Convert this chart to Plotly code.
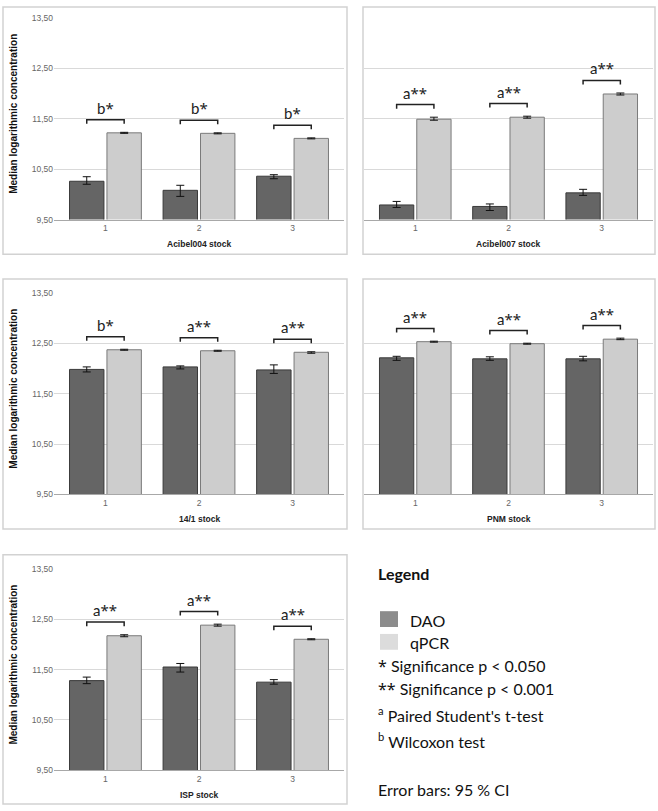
import plotly.graph_objects as go

# ---------------- DATA ----------------
stocks = ["Acibel004 stock", "Acibel007 stock", "14/1 stock", "PNM stock", "ISP stock"]
replicates = ["1", "2", "3"]

dao_median = [[10.26, 10.08, 10.36], [9.79, 9.76, 10.03], [11.98, 12.03, 11.97],
              [12.21, 12.19, 12.19], [11.28, 11.55, 11.25]]
dao_ci_low = [[10.20, 9.96, 10.31], [9.74, 9.68, 9.98], [11.93, 11.99, 11.90],
              [12.16, 12.16, 12.15], [11.22, 11.45, 11.21]]
dao_ci_high = [[10.35, 10.18, 10.39], [9.86, 9.81, 10.10], [12.03, 12.05, 12.07],
               [12.24, 12.23, 12.24], [11.35, 11.62, 11.30]]

qpcr_median = [[11.22, 11.21, 11.11], [11.49, 11.53, 11.99], [12.37, 12.35, 12.32],
               [12.53, 12.49, 12.58], [12.17, 12.38, 12.10]]
qpcr_ci_low = [[11.21, 11.20, 11.10], [11.47, 11.51, 11.97], [12.36, 12.34, 12.30],
               [12.52, 12.48, 12.57], [12.15, 12.36, 12.09]]
qpcr_ci_high = [[11.23, 11.22, 11.12], [11.53, 11.55, 12.01], [12.38, 12.36, 12.33],
                [12.54, 12.50, 12.60], [12.19, 12.40, 12.11]]

significance = [["b*", "b*", "b*"], ["a**", "a**", "a**"], ["b*", "a**", "a**"],
                ["a**", "a**", "a**"], ["a**", "a**", "a**"]]

y_tick_values = [9.5, 10.5, 11.5, 12.5, 13.5]
y_tick_labels = ["9,50", "10,50", "11,50", "12,50", "13,50"]
y_title = "Median logarithmic concentration"

legend_title = "Legend"
legend_series = ["DAO", "qPCR"]
legend_notes = ["* Significance p < 0.050", "** Significance p < 0.001",
                "<sup>a</sup> Paired Student's t-test", "<sup>b</sup> Wilcoxon test"]
legend_footer = "Error bars: 95 % CI"

# ---------------- STYLE / LAYOUT ----------------
W, H = 658, 811
DAO_FILL, DAO_LINE = "#656565", "#3a3a3a"
QPCR_FILL, QPCR_LINE = "#cdcdcd", "#7a7a7a"
LEG_DAO, LEG_QPCR = "#8c8c8c", "#dcdcdc"
BORDER = "#d2d2d2"
GRID = "#d9d9d9"
TXT_FONT = "Lato"
AX_FONT = "Liberation Sans"
STAR_FONT = "Noto Sans"


def star_span(text):
    """Render asterisks in a font with larger asterisk glyphs."""
    out = ""
    for ch in text:
        if ch == "*":
            out += '<span style="font-family:%s">*</span>' % STAR_FONT
        else:
            out += ch
    return out


# plot areas in pixels: (left, right, top, bottom)
plot_px = [(54, 344, 14, 218), (364, 653, 14, 218), (54, 344, 292, 496),
           (364, 653, 292, 496), (54, 344, 571, 775)]
border_px = [(3, 347, 3, 253), (363, 655, 3, 253), (3, 347, 278, 531),
             (363, 655, 278, 531), (3, 347, 557, 809)]
show_y_labels = [True, False, True, False, True]


def px_x(p):
    return p / W


def px_y(p):
    return 1 - p / H


fig = go.Figure()
shapes = []
annotations = []
BR_OFF = 0.25
BR_TICK = 0.08
HALF = 0.2

y_top = 13.5 + 1.0 / 51

for i in range(5):
    suf = "" if i == 0 else str(i + 1)
    xa, ya = "x" + suf, "y" + suf
    xpos = list(range(len(replicates)))

    fig.add_trace(go.Bar(
        x=xpos, y=dao_median[i], name="DAO", showlegend=False,
        marker=dict(color=DAO_FILL, line=dict(color=DAO_LINE, width=1)),
        error_y=dict(type="data", symmetric=False,
                     array=[h - m for h, m in zip(dao_ci_high[i], dao_median[i])],
                     arrayminus=[m - l for m, l in zip(dao_median[i], dao_ci_low[i])],
                     color="#111111", thickness=1, width=4),
        xaxis=xa, yaxis=ya, hoverinfo="skip"))
    fig.add_trace(go.Bar(
        x=xpos, y=qpcr_median[i], name="qPCR", showlegend=False,
        marker=dict(color=QPCR_FILL, line=dict(color=QPCR_LINE, width=1)),
        error_y=dict(type="data", symmetric=False,
                     array=[h - m for h, m in zip(qpcr_ci_high[i], qpcr_median[i])],
                     arrayminus=[m - l for m, l in zip(qpcr_median[i], qpcr_ci_low[i])],
                     color="#111111", thickness=1, width=4),
        xaxis=xa, yaxis=ya, hoverinfo="skip"))

    # significance brackets
    bx, by = [], []
    for j in xpos:
        b = max(qpcr_ci_high[i][j], dao_ci_high[i][j]) + BR_OFF
        bx += [j - HALF, j - HALF, j + HALF, j + HALF, None]
        by += [b - BR_TICK, b, b, b - BR_TICK, None]
        annotations.append(dict(x=j, y=b, xref=xa, yref=ya, text=star_span(significance[i][j]),
                                showarrow=False, yanchor="bottom", yshift=0,
                                font=dict(family=TXT_FONT, size=15, color="#222222")))
    fig.add_trace(go.Scatter(x=bx, y=by, mode="lines", xaxis=xa, yaxis=ya,
                             line=dict(color="#222222", width=1.5),
                             showlegend=False, hoverinfo="skip"))

    l, r, t, btm = plot_px[i]
    fig.layout["xaxis" + suf] = dict(
        domain=[px_x(l), px_x(r)], range=[-0.55, 2.55], anchor=ya,
        tickvals=xpos, ticktext=replicates, showgrid=False, zeroline=False,
        showline=True, linecolor="#a8a8a8", linewidth=1, ticks="",
        tickfont=dict(family=AX_FONT, size=8.5, color="#666666"), fixedrange=True)
    fig.layout["yaxis" + suf] = dict(
        domain=[px_y(btm), px_y(t - 1)], range=[9.5, y_top], anchor=xa,
        tickvals=y_tick_values, ticktext=y_tick_labels, showgrid=True,
        gridcolor=GRID, gridwidth=1, zeroline=False, showline=False, ticks="",
        showticklabels=show_y_labels[i],
        tickfont=dict(family=AX_FONT, size=8.5, color="#666666"), fixedrange=True)

    # x title
    annotations.append(dict(x=px_x((l + r) / 2), y=px_y(btm + 25), xref="paper", yref="paper",
                            text="<b>" + stocks[i] + "</b>", showarrow=False,
                            xanchor="center", yanchor="middle",
                            font=dict(family=AX_FONT, size=8.5, color="#222222")))
    if show_y_labels[i]:
        annotations.append(dict(x=px_x(14), y=px_y((t + btm) / 2 - 5), xref="paper", yref="paper",
                                text="<b>" + y_title + "</b>", showarrow=False, textangle=-90,
                                xanchor="center", yanchor="middle",
                                font=dict(family=AX_FONT, size=10, color="#111111")))

    bl, br, bt, bb = border_px[i]
    shapes.append(dict(type="rect", xref="paper", yref="paper",
                       x0=px_x(bl), x1=px_x(br), y0=px_y(bb), y1=px_y(bt),
                       line=dict(color=BORDER, width=1.5), fillcolor="rgba(0,0,0,0)", layer="below"))

# ---------------- custom legend ----------------
LX = 376
LEG_SIZE = 16
annotations.append(dict(x=px_x(LX), y=px_y(576), xref="paper", yref="paper",
                        text="<b>" + legend_title + "</b>", showarrow=False,
                        xanchor="left", yanchor="middle",
                        font=dict(family=TXT_FONT, size=LEG_SIZE, color="#111111")))
for k, (name, col, yc) in enumerate(zip(legend_series, [LEG_DAO, LEG_QPCR], [622, 645])):
    shapes.append(dict(type="rect", xref="paper", yref="paper",
                       x0=px_x(380), x1=px_x(398), y0=px_y(yc + 8), y1=px_y(yc - 8),
                       line=dict(width=0), fillcolor=col))
    annotations.append(dict(x=px_x(408), y=px_y(yc + 1), xref="paper", yref="paper",
                            text=name, showarrow=False, xanchor="left", yanchor="middle",
                            font=dict(family=TXT_FONT, size=LEG_SIZE, color="#111111")))
for note, yc in zip(legend_notes, [669, 693, 718, 745]):
    annotations.append(dict(x=px_x(LX), y=px_y(yc), xref="paper", yref="paper",
                            text=star_span(note), showarrow=False, xanchor="left", yanchor="middle",
                            font=dict(family=TXT_FONT, size=LEG_SIZE, color="#111111")))
annotations.append(dict(x=px_x(LX), y=px_y(794), xref="paper", yref="paper",
                        text=legend_footer, showarrow=False, xanchor="left", yanchor="middle",
                        font=dict(family=TXT_FONT, size=LEG_SIZE, color="#111111")))

fig.update_layout(
    width=W, height=H, autosize=False,
    margin=dict(l=0, r=0, t=0, b=0),
    paper_bgcolor="white", plot_bgcolor="white",
    barmode="group", bargap=0.2, bargroupgap=0.08,
    shapes=shapes, annotations=annotations, showlegend=False,
)

fig.write_html("out.html", config={"displayModeBar": False},
               post_script="document.body.style.margin='0';document.body.style.padding='0';")
